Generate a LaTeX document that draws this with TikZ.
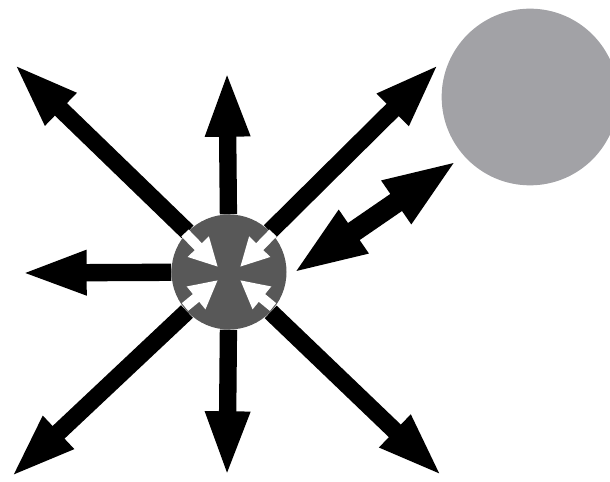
\documentclass[tikz,border=0pt]{standalone}
\usetikzlibrary{arrows.meta}
\definecolor{hubgray}{RGB}{88,88,88}
\definecolor{cellgray}{RGB}{162,162,166}
\tikzset{
  spoke/.style={line width=0.52cm, -{Triangle[length=2cm, width=1.2cm]}},
  swap/.style={line width=0.62cm, {Triangle[length=2.25cm, width=1.4cm]}-{Triangle[length=2.25cm, width=1.4cm]}},
  inflow/.style={white, line width=0.3cm, -{Triangle[length=0.85cm, width=0.82cm]}}
}
\begin{document}
\begin{tikzpicture}[x=0.03cm, y=-0.03cm]
    \useasboundingbox (0,0) rectangle (610,482);
    \node[circle, fill=hubgray, inner sep=0, minimum size=3.45cm] (hub) at (229,272) {};
    \node[circle, fill=cellgray, inner sep=0, minimum size=5.3cm] (cell) at (530,97) {};

    % spoke ends
    \coordinate (ul) at (13,63);
    \coordinate (up) at (227,70);
    \coordinate (ur) at (440,63);
    \coordinate (le) at (20,273);
    \coordinate (ll) at (10,478);
    \coordinate (dn) at (227,478);
    \coordinate (lr) at (443,477);

    \draw[spoke] (hub) -- (ul);
    \draw[spoke] (hub) -- (up);
    \draw[spoke] (hub) -- (ur);
    \draw[spoke] (hub) -- (le);
    \draw[spoke] (hub) -- (ll);
    \draw[spoke] (hub) -- (dn);
    \draw[spoke] (hub) -- (lr);

    % exchange with the neighbour
    \coordinate (near) at (292,274);
    \coordinate (far) at (458,160);
    \draw[swap] (near) -- (far);

    % inward arrows
    \coordinate (a1) at (185,233); \coordinate (t1) at (218,267);
    \coordinate (a2) at (273,233); \coordinate (t2) at (240,267);
    \coordinate (a3) at (185,307); \coordinate (t3) at (218,280);
    \coordinate (a4) at (273,307); \coordinate (t4) at (240,280);
    \draw[inflow] (a1) -- (t1);
    \draw[inflow] (a2) -- (t2);
    \draw[inflow] (a3) -- (t3);
    \draw[inflow] (a4) -- (t4);
\end{tikzpicture}
\end{document}
